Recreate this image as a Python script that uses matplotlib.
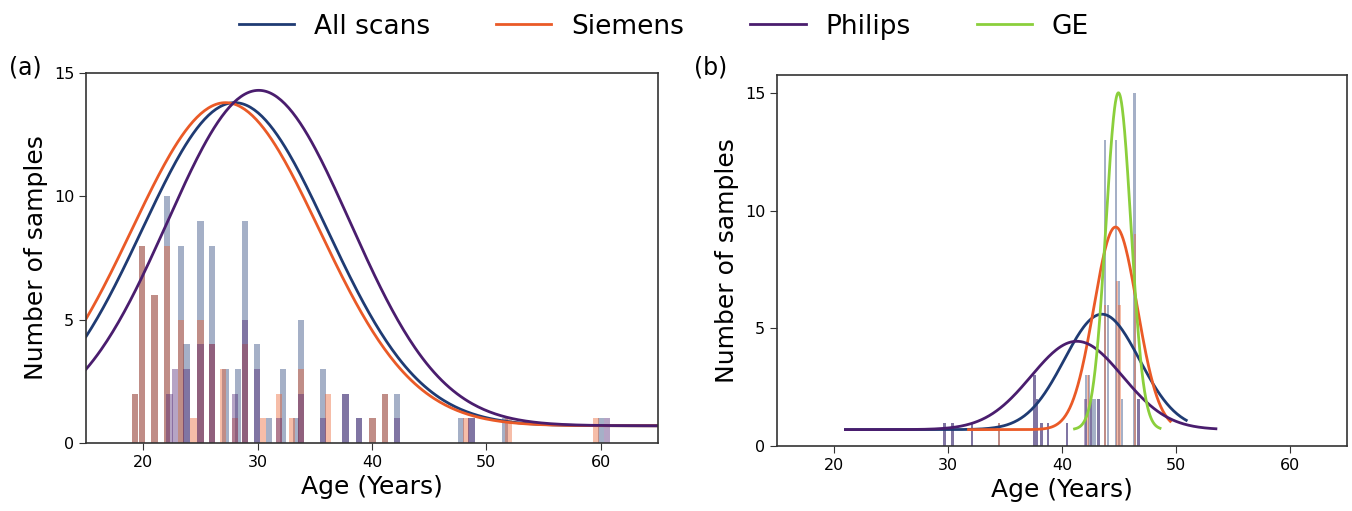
import numpy as np
import matplotlib
matplotlib.use('Agg')
import matplotlib.pyplot as plt

# scanner colours
c_all = '#1f3b73'
c_sie = '#ea5a27'
c_phi = '#4a1d6e'
c_ge = '#8bcf3c'

# (a) age histogram, bin centres and counts per scanner
a_all_age = [19.3, 19.9, 21.0, 22.1, 23.3, 23.8, 25.0, 26.0, 27.2, 28.3, 28.9, 29.95, 31.0,
             32.2, 33.35, 33.8, 35.75, 37.7, 38.9, 40.05, 41.15, 42.2, 47.8, 48.7, 51.65, 60.05]
a_all_cnt = [2, 8, 6, 10, 8, 4, 9, 8, 3, 3, 9, 4, 1, 3, 1, 5, 3, 2, 1, 1, 2, 2, 1, 1, 1, 1]
a_sie_age = [19.3, 19.9, 21.0, 22.1, 23.3, 24.4, 25.0, 26.0, 27.0, 28.0, 28.9, 30.5, 31.85,
             33.0, 33.8, 36.15, 40.05, 41.15, 48.2, 51.95, 59.6]
a_sie_cnt = [2, 8, 6, 8, 5, 1, 5, 4, 3, 1, 4, 1, 2, 1, 3, 2, 1, 2, 1, 1, 1]
a_phi_age = [22.3, 22.8, 23.8, 25.0, 26.0, 28.0, 28.9, 29.95, 31.85, 33.8, 35.75, 37.7, 38.9,
             42.2, 48.7, 60.55]
a_phi_cnt = [2, 3, 3, 4, 4, 2, 5, 3, 1, 2, 1, 2, 1, 1, 1, 1]

# (b) age histogram
b_all_age = [29.7, 30.4, 32.1, 34.5, 37.6, 37.8, 38.2, 38.75, 40.45, 42.1, 42.35, 42.6, 42.85,
             43.2, 43.75, 44.05, 44.75, 45.0, 45.25, 46.35, 46.7]
b_all_cnt = [1, 1, 1, 1, 3, 2, 1, 1, 1, 3, 3, 2, 2, 2, 13, 6, 13, 7, 2, 15, 2]
b_sie_age = [34.5, 42.3, 43.8, 44.85, 45.05, 46.4]
b_sie_cnt = [1, 3, 6, 7, 6, 9]
b_phi_age = [29.7, 30.4, 32.1, 37.6, 37.8, 38.2, 38.75, 40.45, 42.05, 42.55, 43.2, 46.7]
b_phi_cnt = [1, 1, 1, 3, 2, 1, 1, 1, 2, 2, 2, 2]

# gaussian fits: mean, sd, peak height above baseline, baseline, age range
a_fits = {
    'All scans': (28.0, 8.1, 13.1, 0.7, 15, 65),
    'Siemens': (27.2, 8.2, 13.1, 0.7, 15, 65),
    'Philips': (30.1, 8.0, 13.6, 0.7, 15, 65),
}
b_fits = {
    'All scans': (43.5, 3.3, 4.9, 0.7, 21.0, 50.9),
    'Siemens': (44.7, 1.9, 8.6, 0.7, 31.8, 49.5),
    'Philips': (41.3, 4.0, 3.75, 0.7, 21.0, 53.5),
    'GE': (44.95, 1.1, 14.3, 0.7, 41.1, 48.6),
}
colors = {'All scans': c_all, 'Siemens': c_sie, 'Philips': c_phi, 'GE': c_ge}


def fit_curve(ax, name, p):
    mu, sd, amp, base, lo, hi = p
    x = np.linspace(lo, hi, 300)
    y = base + amp * np.exp(-(x - mu) ** 2 / (2 * sd ** 2))
    return ax.plot(x, y, color=colors[name], lw=2, label=name)[0]


fig = plt.figure(figsize=(13.52, 5.11), dpi=100)
ax1 = fig.add_axes([0.0636, 0.133, 0.423, 0.724])
ax2 = fig.add_axes([0.5747, 0.127, 0.4216, 0.726])

w = 0.55
ax1.bar(a_all_age, a_all_cnt, width=w, color=c_all, alpha=0.4)
ax1.bar(a_sie_age, a_sie_cnt, width=w, color=c_sie, alpha=0.4)
ax1.bar(a_phi_age, a_phi_cnt, width=w, color=c_phi, alpha=0.4)
handles = {}
for name in ['All scans', 'Siemens', 'Philips']:
    handles[name] = fit_curve(ax1, name, a_fits[name])
ax1.set_xlim(15, 65)
ax1.set_ylim(0, 15)
ax1.set_yticks([0, 5, 10, 15])

w = 0.2
ax2.bar(b_all_age, b_all_cnt, width=w, color=c_all, alpha=0.4)
ax2.bar(b_sie_age, b_sie_cnt, width=w, color=c_sie, alpha=0.4)
ax2.bar(b_phi_age, b_phi_cnt, width=w, color=c_phi, alpha=0.4)
for name in ['All scans', 'Siemens', 'Philips', 'GE']:
    handles[name] = fit_curve(ax2, name, b_fits[name])
ax2.set_xlim(15, 65)
ax2.set_ylim(0, 15.75)
ax2.set_yticks([0, 5, 10, 15])

for ax in (ax1, ax2):
    ax.set_xticks([20, 30, 40, 50, 60])
    ax.tick_params(labelsize=11.5, length=5, color='#333333')
    ax.set_xlabel('Age (Years)', fontsize=18)
    ax.set_ylabel('Number of samples', fontsize=18)
    for s in ax.spines.values():
        s.set_color('#333333')
        s.set_linewidth(1.2)

fig.text(0.007, 0.855, '(a)', fontsize=17)
fig.text(0.513, 0.855, '(b)', fontsize=17)

names = ['All scans', 'Siemens', 'Philips', 'GE']
fig.legend([handles[n] for n in names], names, loc='upper center', bbox_to_anchor=(0.491, 1.02),
           ncol=4, frameon=False, fontsize=19, handlelength=2.1, handletextpad=0.75,
           columnspacing=2.5)

fig.savefig('out.png', dpi=100)
